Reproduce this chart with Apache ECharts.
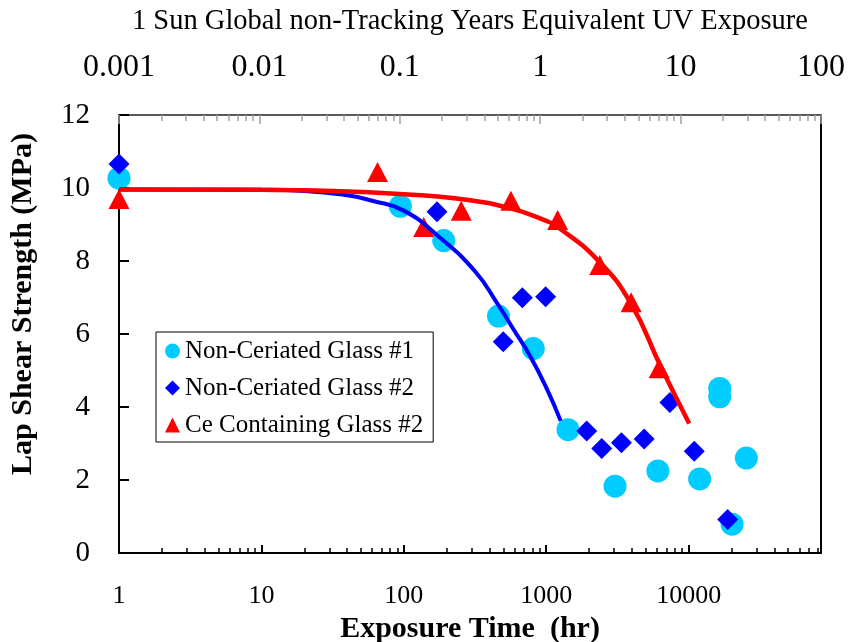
<!DOCTYPE html>
<html><head><meta charset="utf-8">
<script src="https://cdn.jsdelivr.net/npm/echarts@6/dist/echarts.min.js"></script>
<style>html,body{margin:0;padding:0;background:#fff}#c{width:848px;height:642px}</style>
</head><body><div id="c"></div>
<script>
// ---- data ----
const glass1Hours    = [1, 94.5, 190.6, 462, 811, 1422, 3043, 6083, 11950, 16520, 16520, 25420, 20180];
const glass1Strength = [10.27, 9.50, 8.56, 6.49, 5.60, 3.38, 1.83, 2.25, 2.03, 4.51, 4.28, 2.60, 0.79];
const glass2Hours    = [1, 171, 499, 679, 990, 1924, 2454, 3375, 4872, 7384, 10950, 18800];
const glass2Strength = [10.66, 9.35, 5.79, 6.99, 7.02, 3.34, 2.86, 3.02, 3.12, 4.12, 2.79, 0.92];
const ceGlassHours    = [1, 65.4, 138, 253, 565, 1203, 2377, 3946, 6210];
const ceGlassStrength = [9.70, 10.44, 8.93, 9.38, 9.65, 9.12, 7.89, 6.87, 5.06];
const blueFitHours    = [1, 10, 20, 40, 60, 100, 178, 316, 453, 593, 777, 1018, 1263];
const blueFitStrength = [9.96, 9.95, 9.92, 9.80, 9.65, 9.38, 8.65, 7.72, 6.84, 6.11, 5.37, 4.47, 3.62];
const redFitHours     = [1, 10, 32, 100, 251, 562, 1000, 1197, 2290, 3926, 6385, 10090];
const redFitStrength  = [9.96, 9.95, 9.92, 9.83, 9.70, 9.44, 9.10, 8.94, 8.03, 6.84, 5.10, 3.55];
const seriesNames = ['Non-Ceriated Glass #1', 'Non-Ceriated Glass #2', 'Ce Containing Glass #2'];
const bottomTickLabels = ['1', '10', '100', '1000', '10000'];
const topTickLabels = ['0.001', '0.01', '0.1', '1', '10', '100'];
const yTickLabels = ['0', '2', '4', '6', '8', '10', '12'];
const xTitle = 'Exposure Time  (hr)';
const yTitle = 'Lap Shear Strength (MPa)';
const topTitle = '1 Sun Global non-Tracking Years Equivalent UV Exposure';

// ---- build ----
const FONT = '"Liberation Serif", "Times New Roman", serif';
const zip = (a, b) => a.map((v, i) => [v, b[i]]);
const bottomMax = 85000;
const bottomMajor = bottomTickLabels.map(Number);
const topMajor = topTickLabels.map(Number);
const minorOf = (majors, max) => {
  const out = [];
  majors.forEach(d => { for (let m = 2; m <= 9; m++) { if (m * d <= max) out.push(m * d); } });
  return out;
};
const bottomMinor = minorOf(bottomMajor, bottomMax);
const topMinor = minorOf(topMajor.slice(0, -1), 100);
const labelFor = (vals, labels) => v => { const i = vals.findIndex(t => Math.abs(Math.log10(t) - Math.log10(v)) < 1e-6); return i >= 0 ? labels[i] : ''; };

const gridBox = { left: 119, top: 115, right: 27, bottom: 89, containLabel: false, outerBoundsMode: 'none' };
const option = {
  animation: false,
  backgroundColor: '#fff',
  grid: [Object.assign({}, gridBox), Object.assign({}, gridBox)],
  legend: {
    data: seriesNames,
    orient: 'vertical', left: 156, top: 332,
    itemWidth: 15, itemHeight: 15, itemGap: 11,
    padding: [6, 10, 4, 9],
    borderColor: '#000', borderWidth: 1, backgroundColor: '#fff',
    textStyle: { fontFamily: FONT, fontSize: 25, color: '#000', lineHeight: 26 }
  },
  xAxis: [
    {
      gridIndex: 0, type: 'log', logBase: 10, position: 'bottom', min: 1, max: bottomMax,
      axisLine: { onZero: false, lineStyle: { color: '#000', width: 2 } },
      axisTick: { inside: true, length: 8, lineStyle: { color: '#000', width: 2 }, customValues: bottomMajor },
      axisLabel: { customValues: bottomMajor, formatter: labelFor(bottomMajor, bottomTickLabels), fontFamily: FONT, fontSize: 26, color: '#000', margin: 30 },
      splitLine: { show: false },
      name: xTitle, nameLocation: 'middle', nameGap: 51,
      nameTextStyle: { fontFamily: FONT, fontSize: 30, fontWeight: 'bold', color: '#000' }
    },
    {
      gridIndex: 0, type: 'log', logBase: 10, position: 'top', min: 0.001, max: 100,
      axisLine: { onZero: false, lineStyle: { color: '#595959', width: 2 } },
      axisTick: { inside: true, length: 9, lineStyle: { color: '#a0a0a0', width: 1.5 }, customValues: topMajor },
      axisLabel: { customValues: topMajor, formatter: labelFor(topMajor, topTickLabels), fontFamily: FONT, fontSize: 32, color: '#000', margin: 31 },
      splitLine: { show: false },
      name: topTitle, nameLocation: 'middle', nameGap: 79,
      nameTextStyle: { fontFamily: FONT, fontSize: 28.5, color: '#000' }
    },
    {
      gridIndex: 1, type: 'log', logBase: 10, position: 'bottom', min: 1, max: bottomMax,
      axisLine: { show: false, onZero: false },
      axisTick: { inside: true, length: 5, lineStyle: { color: '#000', width: 1.5 }, customValues: bottomMinor },
      axisLabel: { show: false }, splitLine: { show: false }
    },
    {
      gridIndex: 1, type: 'log', logBase: 10, position: 'top', min: 0.001, max: 100,
      axisLine: { show: false, onZero: false },
      axisTick: { inside: true, length: 6, lineStyle: { color: '#a0a0a0', width: 1.5 }, customValues: topMinor },
      axisLabel: { show: false }, splitLine: { show: false }
    }
  ],
  yAxis: [
    {
      gridIndex: 0, type: 'value', position: 'left', min: 0, max: 12, interval: 2,
      axisLine: { show: true, onZero: false, lineStyle: { color: '#000', width: 2 } },
      axisTick: { show: true, inside: true, length: 10, lineStyle: { color: '#000', width: 2 } },
      axisLabel: { formatter: v => yTickLabels[Math.round(v / 2)], fontFamily: FONT, fontSize: 29, color: '#000', margin: 29 },
      splitLine: { show: false },
      name: yTitle, nameLocation: 'middle', nameGap: 81, nameRotate: 90,
      nameTextStyle: { fontFamily: FONT, fontSize: 30, fontWeight: 'bold', color: '#000', padding: [0, 0, 0, 60] }
    },
    {
      gridIndex: 0, type: 'value', position: 'right', min: 0, max: 12, interval: 2,
      axisLine: { show: true, onZero: false, lineStyle: { color: '#000', width: 2 } },
      axisTick: { show: false }, axisLabel: { show: false }, splitLine: { show: false }
    },
    { gridIndex: 1, type: 'value', min: 0, max: 12, show: false }
  ],
  series: [
    {
      name: 'blue fit', type: 'line', xAxisIndex: 0, yAxisIndex: 0,
      data: zip(blueFitHours, blueFitStrength), showSymbol: false, smooth: 0.5, silent: true,
      lineStyle: { color: '#0000FF', width: 4 }
    },
    {
      name: seriesNames[0], type: 'scatter', xAxisIndex: 0, yAxisIndex: 0,
      data: zip(glass1Hours, glass1Strength), symbol: 'circle', symbolSize: 23,
      itemStyle: { color: '#00CCFF', opacity: 1 }
    },
    {
      name: seriesNames[1], type: 'scatter', xAxisIndex: 0, yAxisIndex: 0,
      data: zip(glass2Hours, glass2Strength), symbol: 'diamond', symbolSize: 21,
      itemStyle: { color: '#0000FF', opacity: 1 }
    },
    {
      name: seriesNames[2], type: 'scatter', xAxisIndex: 0, yAxisIndex: 0,
      data: zip(ceGlassHours, ceGlassStrength), symbol: 'triangle', symbolSize: [21, 20],
      itemStyle: { color: '#FF0000', opacity: 1 }
    },
    {
      name: 'red fit', type: 'line', xAxisIndex: 0, yAxisIndex: 0,
      data: zip(redFitHours, redFitStrength), showSymbol: false, smooth: 0.5, silent: true,
      lineStyle: { color: '#FF0000', width: 4.5 }
    }
  ]
};
const chart = echarts.init(document.getElementById('c'), null, { renderer: 'canvas' });
chart.setOption(option);
</script>
</body></html>
